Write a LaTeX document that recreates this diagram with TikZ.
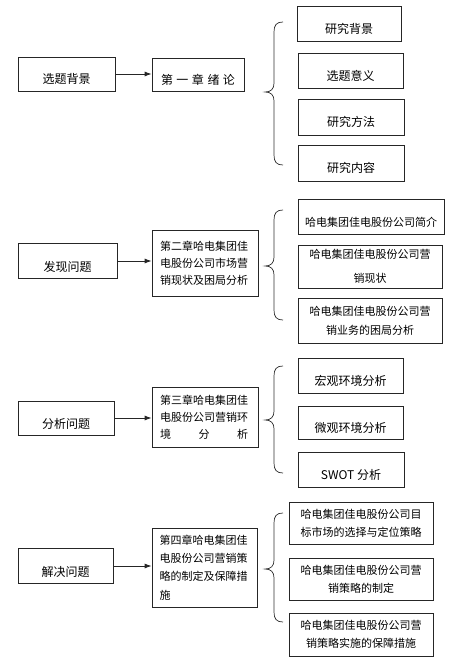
\documentclass[tikz,border=0pt]{standalone}
\usepackage{fontspec}
\newfontfamily\cjk{Noto Sans CJK SC}
\usetikzlibrary{arrows.meta}
\tikzset{
  sz/.style 2 args={minimum width=#1pt, minimum height=#2pt},
  box/.style={draw=black!85, line width=0.8pt, rectangle, inner sep=2pt},
  one/.style={box, text height=20pt, text depth=0pt, font=\cjk\fontsize{12}{14}\selectfont},
  onesm/.style={box, text height=20pt, text depth=0pt, font=\cjk\fontsize{11}{14}\selectfont},
  multi/.style={box, font=\cjk\fontsize{11}{17}\selectfont, align=center},
  chap/.style={box, text width=90pt, align=left, font=\cjk\fontsize{11}{17}\selectfont},
  arr/.style={draw=black!85, line width=0.8pt, -{Latex[length=7pt,width=5pt]}},
  brc/.style={draw=black!80, line width=0.7pt}
}
\newcommand\mybrace[3]{\draw[brc] (283,#1) .. controls (276.5,#1) and (274,#1+3) .. (274,#1+10) -- (274,#2-9) .. controls (274,#2-3) and (271,#2) .. (265,#2) .. controls (271,#2) and (274,#2+3) .. (274,#2+9) -- (274,#3-10) .. controls (274,#3-3) and (276.5,#3) .. (283,#3);}
\begin{document}
\begin{tikzpicture}[x=1pt,y=-1pt]
\fill[white] (0,0) rectangle (471,668);
\useasboundingbox (0,0) rectangle (471,668);

% Section 1
\node[one, sz={97}{34}] (L1) at (66.5,74) {选题背景};
\node[one, sz={92}{33}] (C1) at (198,74.5) {\makebox[74pt][s]{第\hfill 一\hfill 章\hfill 绪\hfill 论}};
\node[one, sz={104}{35}] (R1a) at (349,23.5) {研究背景};
\node[one, sz={105}{35}] (R1b) at (350.5,70.5) {选题意义};
\node[one, sz={106}{36}] (R1c) at (351,117) {研究方法};
\node[one, sz={106}{36}] (R1d) at (351,163) {研究内容};
\draw[arr] (L1.east) -- (L1.east -| C1.west);
\mybrace{22}{92}{165}

% Section 2
\node[one, sz={99}{35}] (L2) at (67.5,261) {发现问题};
\node[chap, sz={106}{66}] (C2) at (205,263) {第二章哈电集团佳\\电股份公司市场营\\销现状及困局分析};
\node[onesm, sz={146}{35}] (R2a) at (371,216.5) {哈电集团佳电股份公司简介};
\node[multi, sz={144}{43}, font=\cjk\fontsize{11}{24}\selectfont] (R2b) at (370,266.5) {哈电集团佳电股份公司营\\销现状};
\node[multi, sz={144}{45}, font=\cjk\fontsize{11}{19}\selectfont] (R2c) at (370,320.5) {哈电集团佳电股份公司营\\销业务的困局分析};
\draw[arr] (L2.east) -- (L2.east -| C2.west);
\mybrace{210}{266}{320}

% Section 3
\node[one, sz={96}{34}] (L3) at (66,418) {分析问题};
\node[chap, sz={106}{60}] (C3) at (205,417) {第三章哈电集团佳\\电股份公司营销环\\\makebox[88pt][s]{境\hfill 分\hfill 析}};
\node[one, sz={105}{35}] (R3a) at (350.5,375.5) {宏观环境分析};
\node[one, sz={105}{33}] (R3b) at (350.5,422.5) {微观环境分析};
\node[one, sz={106}{35}] (R3c) at (351,469.5) {SWOT 分析};
\draw[arr] (L3.east) -- (L3.east -| C3.west);
\mybrace{366}{420}{473}

% Section 4
\node[one, sz={95}{35}] (L4) at (65.5,566) {解决问题};
\node[chap, sz={105}{79}, font=\cjk\fontsize{11}{18.3}\selectfont] (C4) at (204.5,567.5) {第四章哈电集团佳\\电股份公司营销策\\略的制定及保障措\\施};
\node[multi, sz={144}{42}, font=\cjk\fontsize{11}{18}\selectfont] (R4a) at (361,523) {哈电集团佳电股份公司目\\标市场的选择与定位策略};
\node[multi, sz={144}{42}, font=\cjk\fontsize{11}{18}\selectfont] (R4b) at (361,579) {哈电集团佳电股份公司营\\销策略的制定};
\node[multi, sz={144}{43}, font=\cjk\fontsize{11}{18}\selectfont] (R4c) at (361,634.5) {哈电集团佳电股份公司营\\销策略实施的保障措施};
\draw[arr] (L4.east) -- (L4.east -| C4.west);
\mybrace{513}{569}{622}
\end{tikzpicture}
\end{document}
